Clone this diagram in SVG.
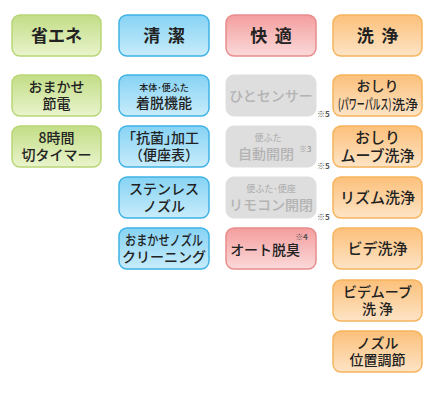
<svg xmlns="http://www.w3.org/2000/svg" width="437" height="402" viewBox="0 0 437 402">
<defs>
<linearGradient id="gG" x1="0" y1="0" x2="0" y2="1"><stop offset="0" stop-color="#c2dd86"/><stop offset="1" stop-color="#e9f4cc"/></linearGradient>
<linearGradient id="gB" x1="0" y1="0" x2="0" y2="1"><stop offset="0" stop-color="#86d3f4"/><stop offset="1" stop-color="#c8ecfb"/></linearGradient>
<linearGradient id="gR" x1="0" y1="0" x2="0" y2="1"><stop offset="0" stop-color="#f49e9e"/><stop offset="1" stop-color="#fbd9d9"/></linearGradient>
<linearGradient id="gO" x1="0" y1="0" x2="0" y2="1"><stop offset="0" stop-color="#fcc07a"/><stop offset="1" stop-color="#fde4c6"/></linearGradient>
</defs>
<style>
text{font-family:"Noto Sans CJK JP","Noto Sans",sans-serif;text-anchor:middle;fill:#222;font-weight:500}
.g{fill:url(#gG);stroke:#b9d677;stroke-width:1.5}
.b{fill:url(#gB);stroke:#3fb3e6;stroke-width:1.5}
.r{fill:url(#gR);stroke:#e88c8c;stroke-width:1.5}
.o{fill:url(#gO);stroke:#f6b45c;stroke-width:1.5}
.n{fill:#dedede;stroke:#dedede;stroke-width:1}
.h{font-size:17px;font-weight:bold}
.t{font-size:14px}
.l{font-size:15px}
.s{font-size:9px}
.gy{fill:#b3b3b3}
.note{font-size:8px;fill:#555;font-weight:bold;text-anchor:start}
.sup{font-size:8px;fill:#999;text-anchor:start}
</style>
<g id="h-shoene"><rect class="g" x="12" y="15" width="89" height="41" rx="8"/><text class="h" x="56.5" y="42">省エネ</text></g>
<g id="h-seiketsu"><rect class="b" x="119" y="15" width="90" height="41" rx="8"/><text class="h" x="164" y="42" xml:space="preserve">清  潔</text></g>
<g id="h-kaiteki"><rect class="r" x="226" y="15" width="90" height="41" rx="8"/><text class="h" x="271" y="42" xml:space="preserve">快  適</text></g>
<g id="h-senjo"><rect class="o" x="333" y="15" width="89" height="41" rx="8"/><text class="h" x="377.5" y="42" xml:space="preserve">洗  浄</text></g>

<g id="g1"><rect class="g" x="12" y="75" width="89" height="41" rx="8"/><text class="t" x="56.5" y="92">おまかせ<tspan x="56.5" dy="17">節電</tspan></text></g>
<g id="g2"><rect class="g" x="12" y="126" width="89" height="41" rx="8"/><text class="t" x="56.5" y="143">8時間<tspan x="56.5" dy="17">切タイマー</tspan></text></g>

<g id="b1"><rect class="b" x="119" y="75" width="90" height="41" rx="8"/><text class="s" x="164" y="91">本体･便ふた<tspan class="t" x="164" dy="17" style="font-size:14px">着脱機能</tspan></text></g>
<g id="b2"><rect class="b" x="119" y="126" width="90" height="41" rx="8"/><text class="t" x="164" y="143">｢抗菌｣加工<tspan x="164" dy="17">（便座表）</tspan></text></g>
<g id="b3"><rect class="b" x="119" y="177" width="90" height="41" rx="8"/><text class="t" x="164" y="194">ステンレス<tspan x="164" dy="17">ノズル</tspan></text></g>
<g id="b4"><rect class="b" x="119" y="228" width="90" height="41" rx="8"/><text class="t" x="164" y="245"><tspan textLength="78" lengthAdjust="spacingAndGlyphs">おまかせノズル</tspan><tspan x="164" dy="17">クリーニング</tspan></text></g>

<g id="r1"><rect class="n" x="226" y="75" width="90" height="41" rx="8"/><text class="t gy" x="271" y="101">ひとセンサー</text><text class="note" x="317" y="117">※5</text></g>
<g id="r2"><rect class="n" x="226" y="126" width="90" height="41" rx="8"/><text class="s gy" x="268" y="141">便ふた<tspan class="t gy" x="266" dy="18" style="font-size:14px">自動開閉</tspan><tspan class="sup" x="299" dy="-7" style="text-anchor:start;font-size:8px">※3</tspan></text><text class="note" x="317" y="169">※5</text></g>
<g id="r3"><rect class="n" x="226" y="177" width="90" height="41" rx="8"/><text class="s gy" x="271" y="192">便ふた･便座<tspan x="271" dy="18" style="font-size:14px">リモコン開閉</tspan></text><text class="note" x="317" y="220">※5</text></g>
<g id="r4"><rect class="r" x="226" y="228" width="90" height="41" rx="8"/><text class="t" x="269" y="255">オート脱臭<tspan style="font-size:8px;fill:#555;font-weight:bold" dx="-5" dy="-15">※4</tspan></text></g>

<g id="o1"><rect class="o" x="333" y="75" width="89" height="41" rx="8"/><text class="t" x="377.5" y="91">おしり</text><text class="t" transform="translate(338,109) scale(0.57,1)" x="0" y="0" style="text-anchor:start">(パワーパルス)</text><text class="t" x="392" y="109" style="text-anchor:start;font-size:13px">洗浄</text></g>
<g id="o2"><rect class="o" x="333" y="126" width="89" height="41" rx="8"/><text class="l" x="377.5" y="143">おしり<tspan x="377.5" dy="18">ムーブ洗浄</tspan></text></g>
<g id="o3"><rect class="o" x="333" y="177" width="89" height="41" rx="8"/><text class="l" x="377.5" y="203">リズム洗浄</text></g>
<g id="o4"><rect class="o" x="333" y="228" width="89" height="41" rx="8"/><text class="l" x="377.5" y="254">ビデ洗浄</text></g>
<g id="o5"><rect class="o" x="333" y="280" width="89" height="41" rx="8"/><text class="t" x="377.5" y="297">ビデムーブ<tspan x="377.5" dy="17" xml:space="preserve">洗 浄</tspan></text></g>
<g id="o6"><rect class="o" x="333" y="331" width="89" height="41" rx="8"/><text class="t" x="377.5" y="348">ノズル<tspan x="377.5" dy="17">位置調節</tspan></text></g>
<g id="connectors"/>
</svg>
